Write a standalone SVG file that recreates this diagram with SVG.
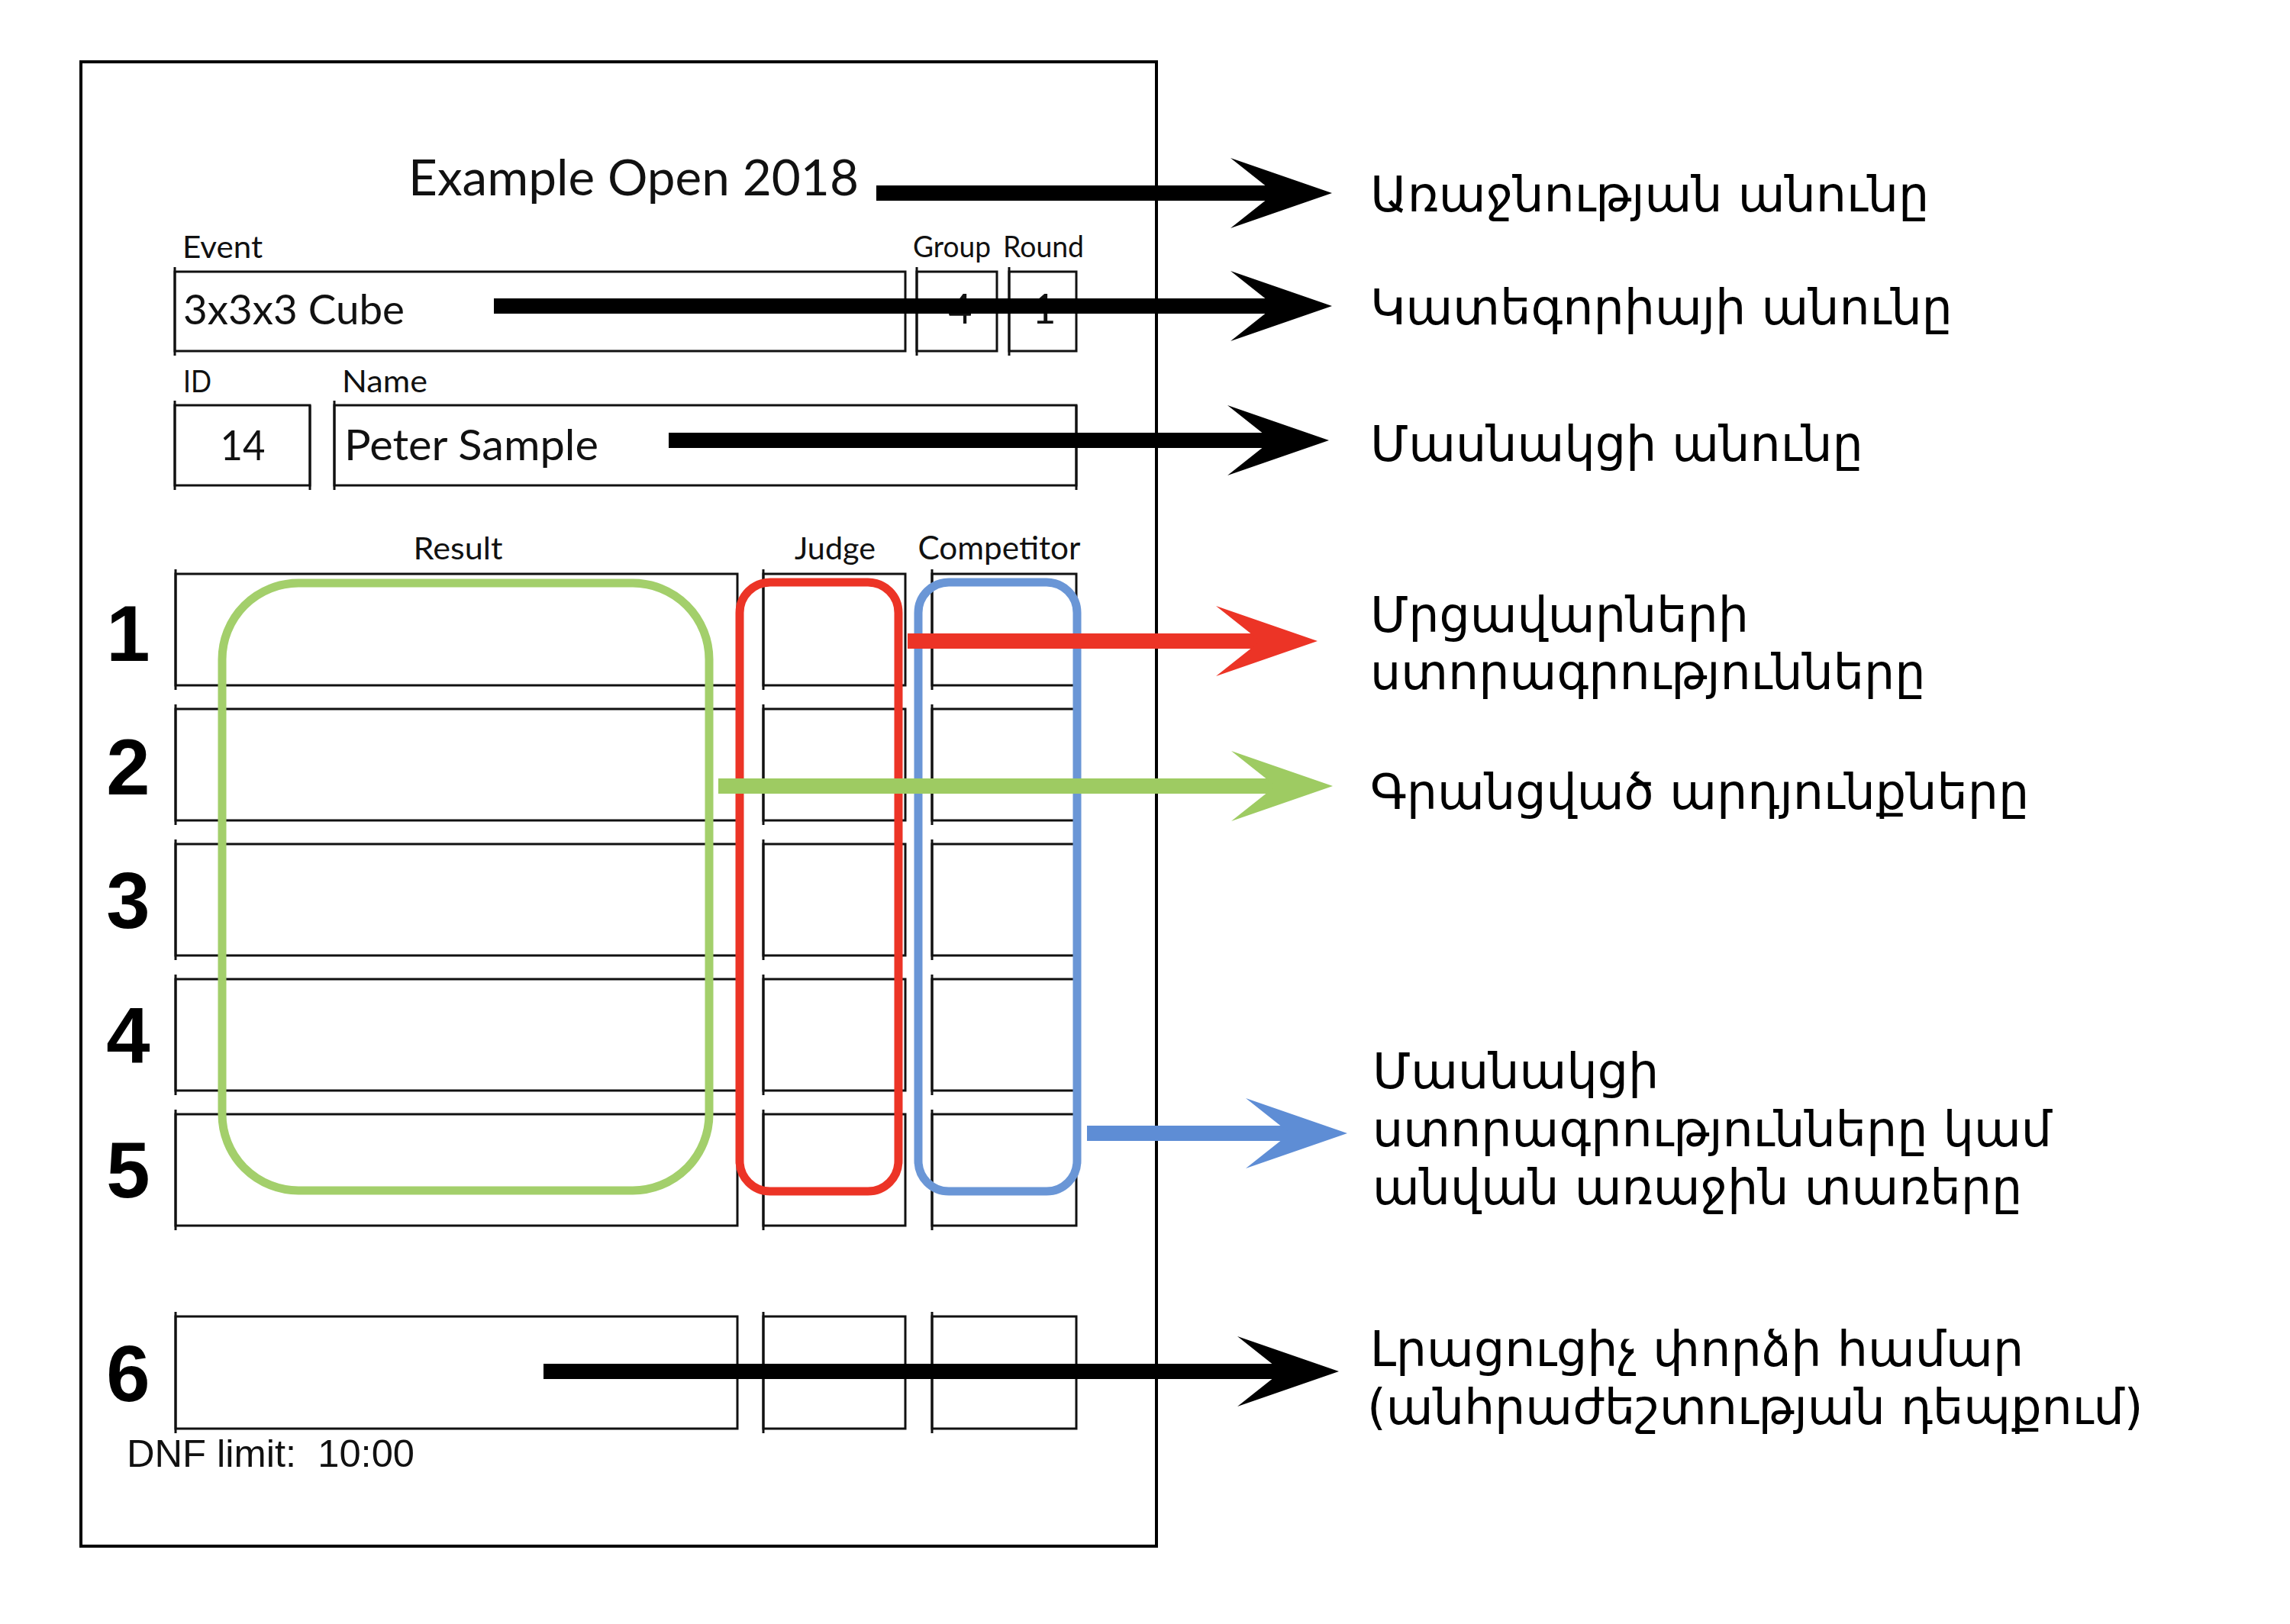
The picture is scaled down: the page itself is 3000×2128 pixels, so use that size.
<svg xmlns="http://www.w3.org/2000/svg" width="3000" height="2128" viewBox="0 0 3000 2128">
<style>
.box{fill:none;stroke:#111;stroke-width:3}
.frame{fill:none;stroke:#000;stroke-width:4}
.ftxt{font-family:Lato,"Liberation Sans",Arial,sans-serif;fill:#111}
.dig{font-family:"Liberation Sans",Arial,sans-serif;font-weight:bold;font-size:103px;fill:#000;text-anchor:middle}
.lbl{font-family:"DejaVu Sans","Noto Sans",sans-serif;font-size:63.5px;fill:#000}
.shaft{fill:none;stroke-width:20}
</style>
<defs>
<marker id="hk" viewBox="-60 -50 140 100" markerWidth="140" markerHeight="100" refX="0" refY="0" orient="auto" markerUnits="userSpaceOnUse"><path d="M75,0 L-58,-46 L0,0 L-58,46 Z" fill="#000"/></marker>
<marker id="hr" viewBox="-60 -50 140 100" markerWidth="140" markerHeight="100" refX="0" refY="0" orient="auto" markerUnits="userSpaceOnUse"><path d="M75,0 L-58,-46 L0,0 L-58,46 Z" fill="#EC3426"/></marker>
<marker id="hg" viewBox="-60 -50 140 100" markerWidth="140" markerHeight="100" refX="0" refY="0" orient="auto" markerUnits="userSpaceOnUse"><path d="M75,0 L-58,-46 L0,0 L-58,46 Z" fill="#9ECB62"/></marker>
<marker id="hb" viewBox="-60 -50 140 100" markerWidth="140" markerHeight="100" refX="0" refY="0" orient="auto" markerUnits="userSpaceOnUse"><path d="M75,0 L-58,-46 L0,0 L-58,46 Z" fill="#5E8DD5"/></marker>
</defs>
<rect width="3000" height="2128" fill="#fff"/>

<g id="sheet">
<rect class="frame" x="106" y="81" width="1409" height="1945"/>
<text class="ftxt" x="535" y="256" font-size="66" textLength="590" lengthAdjust="spacingAndGlyphs">Example Open 2018</text>
</g>

<g id="event-field">
<text class="ftxt" x="239" y="338" font-size="40" textLength="105" lengthAdjust="spacingAndGlyphs">Event</text>
<rect class="box" x="229" y="356" width="957" height="104"/>
<path class="box" d="M229,350 V466"/>
<text class="ftxt" x="240" y="425" font-size="54" textLength="290" lengthAdjust="spacingAndGlyphs">3x3x3 Cube</text>
</g>

<g id="group-field">
<text class="ftxt" x="1196" y="337" font-size="38" textLength="102" lengthAdjust="spacingAndGlyphs">Group</text>
<rect class="box" x="1201" y="356" width="105" height="104"/>
<path class="box" d="M1201,350 V466"/>
<text class="ftxt" x="1258" y="424" font-size="54" text-anchor="middle">4</text>
</g>

<g id="round-field">
<text class="ftxt" x="1314" y="337" font-size="38" textLength="106" lengthAdjust="spacingAndGlyphs">Round</text>
<rect class="box" x="1322" y="356" width="88" height="104"/>
<path class="box" d="M1322,350 V466"/>
<text class="ftxt" x="1368" y="424" font-size="54" text-anchor="middle">1</text>
</g>

<g id="id-field">
<text class="ftxt" x="240" y="514" font-size="40" textLength="37" lengthAdjust="spacingAndGlyphs">ID</text>
<rect class="box" x="229" y="531" width="177" height="105"/>
<path class="box" d="M229,525 V642 M406,531 V642"/>
<text class="ftxt" x="318" y="603" font-size="54" text-anchor="middle" textLength="59" lengthAdjust="spacingAndGlyphs">14</text>
</g>

<g id="name-field">
<text class="ftxt" x="448" y="514" font-size="40" textLength="112" lengthAdjust="spacingAndGlyphs">Name</text>
<rect class="box" x="438" y="531" width="972" height="105"/>
<path class="box" d="M438,525 V642 M1410,531 V642"/>
<text class="ftxt" x="451" y="603" font-size="56" textLength="333" lengthAdjust="spacingAndGlyphs">Peter Sample</text>
</g>

<g id="column-headers">
<text class="ftxt" x="600" y="733" font-size="41" text-anchor="middle" textLength="117" lengthAdjust="spacingAndGlyphs">Result</text>
<text class="ftxt" x="1094" y="733" font-size="41" text-anchor="middle" textLength="106" lengthAdjust="spacingAndGlyphs">Judge</text>
<text class="ftxt" x="1309" y="733" font-size="42" text-anchor="middle" textLength="213" lengthAdjust="spacingAndGlyphs">Competitor</text>
</g>

<g id="attempt-rows">
<rect class="box" x="230" y="752" width="736" height="146"/><rect class="box" x="1000" y="752" width="186" height="146"/><rect class="box" x="1221" y="752" width="189" height="146"/>
<rect class="box" x="230" y="929" width="736" height="146"/><rect class="box" x="1000" y="929" width="186" height="146"/><rect class="box" x="1221" y="929" width="189" height="146"/>
<rect class="box" x="230" y="1106" width="736" height="146"/><rect class="box" x="1000" y="1106" width="186" height="146"/><rect class="box" x="1221" y="1106" width="189" height="146"/>
<rect class="box" x="230" y="1283" width="736" height="146"/><rect class="box" x="1000" y="1283" width="186" height="146"/><rect class="box" x="1221" y="1283" width="189" height="146"/>
<rect class="box" x="230" y="1460" width="736" height="146"/><rect class="box" x="1000" y="1460" width="186" height="146"/><rect class="box" x="1221" y="1460" width="189" height="146"/>
<path class="box" d="M230,746 V904 M230,923 V1081 M230,1100 V1258 M230,1277 V1435 M230,1454 V1612 M1000,746 V904 M1000,923 V1081 M1000,1100 V1258 M1000,1277 V1435 M1000,1454 V1612 M1221,746 V904 M1221,923 V1081 M1221,1100 V1258 M1221,1277 V1435 M1221,1454 V1612"/>
<text class="dig" x="168" y="866">1</text>
<text class="dig" x="168" y="1041">2</text>
<text class="dig" x="168" y="1216">3</text>
<text class="dig" x="168" y="1393">4</text>
<text class="dig" x="168" y="1569">5</text>
</g>

<g id="extra-row">
<rect class="box" x="230" y="1725" width="736" height="147"/><rect class="box" x="1000" y="1725" width="186" height="147"/><rect class="box" x="1221" y="1725" width="189" height="147"/>
<path class="box" d="M230,1719 V1878 M1000,1719 V1878 M1221,1719 V1878"/>
<text class="dig" x="168" y="1836">6</text>
<text x="166" y="1922" font-family="Liberation Sans, Arial, sans-serif" font-size="50" fill="#111" xml:space="preserve" textLength="377" lengthAdjust="spacingAndGlyphs">DNF limit:  10:00</text>
</g>

<g id="highlight-results">
<rect x="291" y="764" width="638" height="796" rx="100" ry="100" fill="none" stroke="#A3CF6B" stroke-width="11"/>
</g>
<g id="highlight-judge">
<rect x="969" y="763" width="208" height="798" rx="40" ry="40" fill="none" stroke="#EC3426" stroke-width="11"/>
</g>
<g id="highlight-competitor">
<rect x="1203" y="763" width="208" height="798" rx="40" ry="40" fill="none" stroke="#6A96D6" stroke-width="11"/>
</g>

<g id="connectors">
<path class="shaft" stroke="#000" d="M1148,253 H1670" marker-end="url(#hk)"/>
<path class="shaft" stroke="#000" d="M647,401 H1670" marker-end="url(#hk)"/>
<path class="shaft" stroke="#000" d="M876,577 H1666" marker-end="url(#hk)"/>
<path class="shaft" stroke="#EC3426" d="M1189,840 H1651" marker-end="url(#hr)"/>
<path class="shaft" stroke="#9ECB62" stroke-width="17" d="M941,1030 H1671" marker-end="url(#hg)"/>
<path class="shaft" stroke="#5E8DD5" d="M1424,1485 H1690" marker-end="url(#hb)"/>
<path class="shaft" stroke="#000" d="M712,1797 H1679" marker-end="url(#hk)"/>
</g>

<g id="label-competition">
<text class="lbl" x="1795" y="277">Առաջնության անունը</text>
</g>
<g id="label-event">
<text class="lbl" x="1795" y="425">Կատեգորիայի անունը</text>
</g>
<g id="label-name">
<text class="lbl" x="1795" y="604">Մասնակցի անունը</text>
</g>
<g id="label-judge">
<text class="lbl" x="1795" y="828">Մրցավարների</text>
<text class="lbl" x="1795" y="903">ստորագրությունները</text>
</g>
<g id="label-results">
<text class="lbl" x="1795" y="1060">Գրանցված արդյունքները</text>
</g>
<g id="label-competitor">
<text class="lbl" x="1798" y="1426">Մասնակցի</text>
<text class="lbl" x="1798" y="1502">ստորագրությունները կամ</text>
<text class="lbl" x="1798" y="1578">անվան առաջին տառերը</text>
</g>
<g id="label-extra">
<text class="lbl" x="1795" y="1790">Լրացուցիչ փորձի համար</text>
<text class="lbl" x="1791" y="1866">(անհրաժեշտության դեպքում)</text>
</g>
</svg>
